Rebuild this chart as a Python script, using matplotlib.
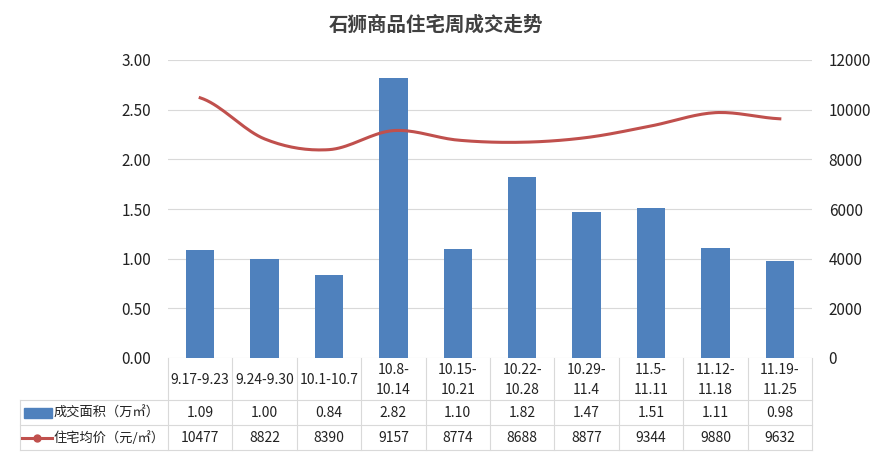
import matplotlib
matplotlib.use("Agg")
import matplotlib.pyplot as plt
import numpy as np
from matplotlib.patches import Rectangle
from matplotlib.lines import Line2D

plt.rcParams['font.family'] = ['Noto Sans CJK SC', 'DejaVu Sans']

categories = ["9.17-9.23", "9.24-9.30", "10.1-10.7", "10.8-\n10.14", "10.15-\n10.21", "10.22-\n10.28",
              "10.29-\n11.4", "11.5-\n11.11", "11.12-\n11.18", "11.19-\n11.25"]
area = [1.09, 1.00, 0.84, 2.82, 1.10, 1.82, 1.47, 1.51, 1.11, 0.98]
price = [10477, 8822, 8390, 9157, 8774, 8688, 8877, 9344, 9880, 9632]
area_label = "成交面积（万㎡）"
price_label = "住宅均价（元/㎡）"

W, H = 873, 463
fig = plt.figure(figsize=(W/100, H/100), dpi=100)
PL, PR = 168, 812
L, R, T, B = PL/W, PR/W, 1-60/H, 1-358/H
ax = fig.add_axes([L, B, R-L, T-B])
ax2 = ax.twinx()
n = len(categories)
x = np.arange(n)
blue = "#4f81bd"; red = "#c0504d"
ax.bar(x, area, width=0.44, color=blue, zorder=2)
ax.set_xlim(-0.5, n-0.5)
ax.set_ylim(0, 3)
ax.set_yticks(np.arange(0, 3.01, 0.5))
ax.set_yticklabels([f"{v:.2f}" for v in np.arange(0, 3.01, 0.5)])
ax2.set_ylim(0, 12000)
ax2.set_yticks(range(0, 12001, 2000))
ax.yaxis.grid(True, color="#d9d9d9", lw=0.8, zorder=0)
ax.set_axisbelow(True)
for a in (ax, ax2):
    for s in a.spines.values():
        s.set_visible(False)
    a.tick_params(length=0, labelsize=11, colors="#222222", pad=12)
ax.set_xticks([])

p = np.array(price, float)
xs, ys = [], []
pp = np.concatenate([[p[0]], p, [p[-1]]])
for i in range(n-1):
    p0, p1, p2, p3 = pp[i], pp[i+1], pp[i+2], pp[i+3]
    t = np.linspace(0, 1, 20)
    y = 0.5*((2*p1) + (-p0+p2)*t + (2*p0-5*p1+4*p2-p3)*t**2 + (-p0+3*p1-3*p2+p3)*t**3)
    xs.extend(i + t); ys.extend(y)
ax2.plot(xs, ys, color=red, lw=2.2, zorder=3)

fig.text(0.5, 1-25/H, "石狮商品住宅周成交走势", ha="center", va="center", fontsize=14,
         fontweight="bold", color="#404040")

def fx(px): return px / W
def fy(py): return 1 - py / H
colw = (PR-PL)/n
grid = dict(color="#d9d9d9", lw=0.8)
table_left = 20
for yy in [400, 425, 450]:
    fig.add_artist(Line2D([fx(table_left), fx(PR)], [fy(yy)]*2, **grid))
fig.add_artist(Line2D([fx(table_left)]*2, [fy(400), fy(450)], **grid))
for i in range(n+1):
    xx = PL + i*colw
    fig.add_artist(Line2D([fx(xx)]*2, [fy(358), fy(450)], **grid))
fs = 10
for i, c in enumerate(categories):
    cx = PL + (i+0.5)*colw
    fig.text(fx(cx), fy(380), c, ha="center", va="center", fontsize=fs, color="#222222", linespacing=1.5)
    fig.text(fx(cx), fy(413), f"{area[i]:.2f}", ha="center", va="center", fontsize=fs, color="#222222")
    fig.text(fx(cx), fy(438), f"{price[i]}", ha="center", va="center", fontsize=fs, color="#222222")
fig.add_artist(Rectangle((fx(24), fy(418)), fx(28), 10/H, color=blue, transform=fig.transFigure))
fig.text(fx(54), fy(413), area_label, ha="left", va="center", fontsize=9.5, color="#222222")
fig.add_artist(Line2D([fx(22), fx(52)], [fy(438)]*2, color=red, lw=2.2, transform=fig.transFigure))
fig.add_artist(Line2D([fx(37)], [fy(438)], color=red, marker="o", markersize=5, transform=fig.transFigure))
fig.text(fx(54), fy(438), price_label, ha="left", va="center", fontsize=9.5, color="#222222")

fig.savefig("out.png", dpi=100, facecolor="white")
